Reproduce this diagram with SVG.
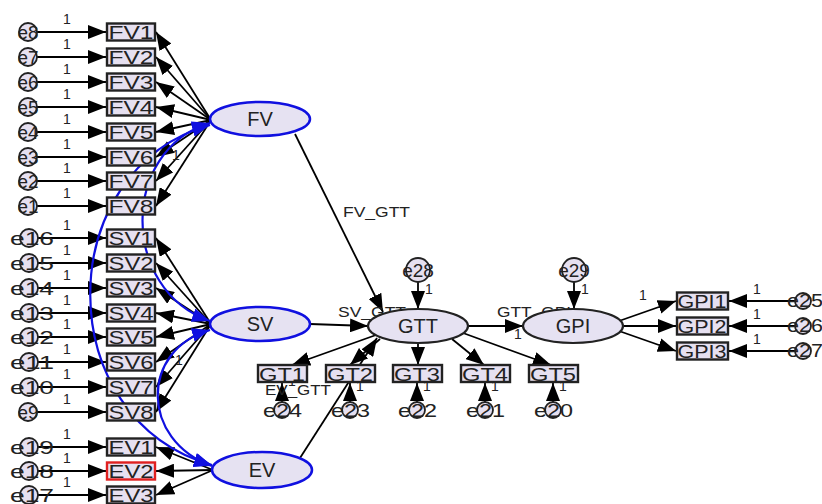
<svg xmlns="http://www.w3.org/2000/svg" width="822" height="504" viewBox="0 0 822 504">
<defs>
<marker id="ah" markerUnits="userSpaceOnUse" markerWidth="19" markerHeight="14" refX="18" refY="7" orient="auto"><path d="M0,0 L18,7 L0,14 z" fill="#000"/></marker>
<marker id="bh" markerUnits="userSpaceOnUse" markerWidth="19" markerHeight="14" refX="18" refY="7" orient="auto-start-reverse"><path d="M0,0 L18,7 L0,14 z" fill="#1010e0"/></marker>
</defs>
<style>
.box{fill:#e6e0f0;stroke:#222;stroke-width:2.4}
.lv{fill:#e6e2f2;stroke:#1010e0;stroke-width:2.5}
.lb{fill:#e6e2f2;stroke:#222;stroke-width:2.2}
.err{fill:#e6e0f0;stroke:#222;stroke-width:1.8}
.t{font-family:"Liberation Sans",Arial,sans-serif;font-size:19px;fill:#222;text-anchor:middle}
.tl{font-family:"Liberation Sans",Arial,sans-serif;font-size:20px;fill:#222;text-anchor:middle}
.s{font-family:"Liberation Sans",Arial,sans-serif;font-size:14px;fill:#222}
.c{fill:none;stroke:#000;stroke-width:1.8}
.cv{fill:none;stroke:#1010e0;stroke-width:2.2}
</style>
<rect width="822" height="504" fill="#fff"/>
<g id="connectors">
<g class="c" marker-end="url(#ah)">
<line x1="37" y1="32" x2="106" y2="32"/><line x1="37" y1="57" x2="106" y2="57"/><line x1="37" y1="82" x2="106" y2="82"/><line x1="37" y1="107" x2="106" y2="107"/><line x1="37" y1="132" x2="106" y2="132"/><line x1="37" y1="157" x2="106" y2="157"/><line x1="37" y1="181" x2="106" y2="181"/><line x1="37" y1="206" x2="106" y2="206"/>
<line x1="37" y1="238" x2="106" y2="238"/><line x1="37" y1="263" x2="106" y2="263"/><line x1="37" y1="288" x2="106" y2="288"/><line x1="37" y1="313" x2="106" y2="313"/><line x1="37" y1="337" x2="106" y2="337"/><line x1="37" y1="362" x2="106" y2="362"/><line x1="37" y1="387" x2="106" y2="387"/><line x1="37" y1="412" x2="106" y2="412"/>
<line x1="37" y1="447" x2="106" y2="447"/><line x1="37" y1="471" x2="106" y2="471"/><line x1="37" y1="495" x2="106" y2="495"/>
<line x1="211" y1="120" x2="156" y2="32"/><line x1="211" y1="120" x2="156" y2="57"/><line x1="211" y1="120" x2="156" y2="82"/><line x1="211" y1="120" x2="156" y2="107"/><line x1="211" y1="120" x2="156" y2="132"/><line x1="211" y1="120" x2="156" y2="157"/><line x1="211" y1="120" x2="156" y2="181"/><line x1="211" y1="120" x2="156" y2="206"/>
<line x1="211" y1="324" x2="156" y2="238"/><line x1="211" y1="324" x2="156" y2="263"/><line x1="211" y1="324" x2="156" y2="288"/><line x1="211" y1="324" x2="156" y2="313"/><line x1="211" y1="324" x2="156" y2="337"/><line x1="211" y1="324" x2="156" y2="362"/><line x1="211" y1="324" x2="156" y2="387"/><line x1="211" y1="324" x2="156" y2="412"/>
<line x1="213" y1="470" x2="156" y2="447"/><line x1="213" y1="470" x2="156" y2="471"/><line x1="213" y1="470" x2="156" y2="495"/>
<line x1="295" y1="134" x2="383" y2="312"/>
<line x1="310" y1="324" x2="368" y2="326"/>
<line x1="300" y1="458" x2="377" y2="338"/>
<line x1="468" y1="326" x2="523" y2="326"/>
<line x1="418" y1="282" x2="418" y2="309"/>
<line x1="574" y1="282" x2="574" y2="309"/>
<line x1="376" y1="335" x2="292" y2="365"/>
<line x1="380" y1="339" x2="350" y2="365"/>
<line x1="418" y1="343" x2="418" y2="365"/>
<line x1="452" y1="339" x2="484" y2="365"/>
<line x1="463" y1="333" x2="551" y2="365"/>
<line x1="282" y1="402" x2="282" y2="383"/>
<line x1="350" y1="402" x2="350" y2="383"/>
<line x1="417" y1="402" x2="417" y2="383"/>
<line x1="485" y1="402" x2="485" y2="383"/>
<line x1="553" y1="402" x2="553" y2="383"/>
<line x1="619" y1="321" x2="676" y2="301"/>
<line x1="623" y1="326" x2="676" y2="326"/>
<line x1="619" y1="331" x2="676" y2="351"/>
<line x1="795" y1="301" x2="729" y2="301"/>
<line x1="795" y1="326" x2="729" y2="326"/>
<line x1="795" y1="351" x2="729" y2="351"/>
</g>
<g class="cv" marker-start="url(#bh)" marker-end="url(#bh)">
<path d="M210 123 C120 150 120 290 210 321"/>
<path d="M210 125 C50 170 50 420 212 465"/>
<path d="M210 330 C140 350 140 440 212 466"/>
</g>
</g>
<g id="labels">
<g class="s">
<text x="63" y="24">1</text><text x="63" y="49">1</text><text x="63" y="74">1</text><text x="63" y="99">1</text><text x="63" y="124">1</text><text x="63" y="149">1</text><text x="63" y="173">1</text><text x="63" y="198">1</text>
<text x="63" y="230">1</text><text x="63" y="255">1</text><text x="63" y="280">1</text><text x="63" y="305">1</text><text x="63" y="329">1</text><text x="63" y="354">1</text><text x="63" y="379">1</text><text x="63" y="404">1</text>
<text x="63" y="439">1</text><text x="63" y="463">1</text><text x="63" y="487">1</text>
<text x="172" y="160">1</text><text x="175" y="365">1</text>
<text x="343" y="217" font-size="15" textLength="67" lengthAdjust="spacingAndGlyphs">FV_GTT</text>
<text x="338" y="317" font-size="15" textLength="68" lengthAdjust="spacingAndGlyphs">SV_GTT</text>
<text x="265" y="395" font-size="15" textLength="66" lengthAdjust="spacingAndGlyphs">EV_GTT</text>
<text x="497" y="317" font-size="15" textLength="74" lengthAdjust="spacingAndGlyphs">GTT_GPI</text>
<text x="514" y="339">1</text>
<text x="425" y="294">1</text><text x="581" y="294">1</text>
<text x="288" y="386">1</text><text x="356" y="391">1</text><text x="423" y="391">1</text><text x="491" y="391">1</text><text x="559" y="391">1</text>
<text x="639" y="300">1</text>
<text x="753" y="294">1</text><text x="753" y="319">1</text><text x="753" y="344">1</text>
</g>
</g>
<g id="errors">
<g class="err">
<circle cx="28" cy="32" r="9"/><circle cx="28" cy="57" r="9"/><circle cx="28" cy="82" r="9"/><circle cx="28" cy="107" r="9"/><circle cx="28" cy="132" r="9"/><circle cx="28" cy="157" r="9"/><circle cx="28" cy="181" r="9"/><circle cx="28" cy="206" r="9"/>
<circle cx="29" cy="238" r="9"/><circle cx="29" cy="263" r="9"/><circle cx="29" cy="288" r="9"/><circle cx="29" cy="313" r="9"/><circle cx="29" cy="337" r="9"/><circle cx="29" cy="362" r="9"/><circle cx="29" cy="387" r="9"/><circle cx="28" cy="412" r="9"/>
<circle cx="29" cy="447" r="9"/><circle cx="29" cy="471" r="9"/><circle cx="29" cy="495" r="9"/>
<circle cx="418" cy="270" r="12"/><circle cx="574" cy="270" r="12"/>
<circle cx="282" cy="410" r="8"/><circle cx="350" cy="410" r="8"/><circle cx="417" cy="410" r="8"/><circle cx="485" cy="410" r="8"/><circle cx="553" cy="410" r="8"/>
<circle cx="803" cy="301" r="8"/><circle cx="803" cy="326" r="8"/><circle cx="803" cy="351" r="8"/>
</g>
<g class="t">
<text x="28" y="39" textLength="21" lengthAdjust="spacingAndGlyphs">e8</text><text x="28" y="64" textLength="21" lengthAdjust="spacingAndGlyphs">e7</text><text x="28" y="89" textLength="21" lengthAdjust="spacingAndGlyphs">e6</text><text x="28" y="114" textLength="21" lengthAdjust="spacingAndGlyphs">e5</text><text x="28" y="139" textLength="21" lengthAdjust="spacingAndGlyphs">e4</text><text x="28" y="164" textLength="21" lengthAdjust="spacingAndGlyphs">e3</text><text x="28" y="188" textLength="21" lengthAdjust="spacingAndGlyphs">e2</text><text x="28" y="213" textLength="21" lengthAdjust="spacingAndGlyphs">e1</text>
<text x="10" y="245" text-anchor="start" textLength="44" lengthAdjust="spacingAndGlyphs">e16</text><text x="10" y="270" text-anchor="start" textLength="44" lengthAdjust="spacingAndGlyphs">e15</text><text x="10" y="295" text-anchor="start" textLength="44" lengthAdjust="spacingAndGlyphs">e14</text><text x="10" y="320" text-anchor="start" textLength="44" lengthAdjust="spacingAndGlyphs">e13</text><text x="10" y="344" text-anchor="start" textLength="44" lengthAdjust="spacingAndGlyphs">e12</text><text x="10" y="369" text-anchor="start" textLength="44" lengthAdjust="spacingAndGlyphs">e11</text><text x="10" y="394" text-anchor="start" textLength="44" lengthAdjust="spacingAndGlyphs">e10</text><text x="28" y="419" textLength="21" lengthAdjust="spacingAndGlyphs">e9</text>
<text x="10" y="454" text-anchor="start" textLength="44" lengthAdjust="spacingAndGlyphs">e19</text><text x="10" y="478" text-anchor="start" textLength="44" lengthAdjust="spacingAndGlyphs">e18</text><text x="10" y="502" text-anchor="start" textLength="44" lengthAdjust="spacingAndGlyphs">e17</text>
<text x="418" y="277">e28</text><text x="574" y="277">e29</text>
<text x="263" y="417" text-anchor="start" textLength="39" lengthAdjust="spacingAndGlyphs">e24</text><text x="331" y="417" text-anchor="start" textLength="39" lengthAdjust="spacingAndGlyphs">e23</text><text x="398" y="417" text-anchor="start" textLength="39" lengthAdjust="spacingAndGlyphs">e22</text><text x="466" y="417" text-anchor="start" textLength="39" lengthAdjust="spacingAndGlyphs">e21</text><text x="534" y="417" text-anchor="start" textLength="39" lengthAdjust="spacingAndGlyphs">e20</text>
<text x="787" y="307" text-anchor="start" textLength="36" lengthAdjust="spacingAndGlyphs">e25</text><text x="787" y="332" text-anchor="start" textLength="36" lengthAdjust="spacingAndGlyphs">e26</text><text x="787" y="357" text-anchor="start" textLength="36" lengthAdjust="spacingAndGlyphs">e27</text>
</g>
</g>
<g id="observed">
<g class="box">
<rect x="107" y="23.5" width="48" height="17"/><rect x="107" y="48.5" width="48" height="17"/><rect x="107" y="73.5" width="48" height="17"/><rect x="107" y="98.5" width="48" height="17"/><rect x="107" y="123.5" width="48" height="17"/><rect x="107" y="148.5" width="48" height="17"/><rect x="107" y="172.5" width="48" height="17"/><rect x="107" y="197.5" width="48" height="17"/>
<rect x="107" y="229.5" width="48" height="17"/><rect x="107" y="254.5" width="48" height="17"/><rect x="107" y="279.5" width="48" height="17"/><rect x="107" y="304.5" width="48" height="17"/><rect x="107" y="328.5" width="48" height="17"/><rect x="107" y="353.5" width="48" height="17"/><rect x="107" y="378.5" width="48" height="17"/><rect x="107" y="403.5" width="48" height="17"/>
<rect x="107" y="438.5" width="48" height="17"/><rect x="107" y="462.5" width="48" height="17" style="stroke:#e02020"/><rect x="107" y="486.5" width="48" height="17"/>
<rect x="258" y="365" width="49" height="17"/><rect x="326" y="365" width="49" height="17"/><rect x="393" y="365" width="49" height="17"/><rect x="461" y="365" width="49" height="17"/><rect x="529" y="365" width="49" height="17"/>
<rect x="677" y="292.5" width="51" height="17"/><rect x="677" y="317.5" width="51" height="17"/><rect x="677" y="342.5" width="51" height="17"/>
</g>
<g class="t" font-size="20">
<text x="131" y="39" textLength="45" lengthAdjust="spacingAndGlyphs">FV1</text><text x="131" y="64" textLength="45" lengthAdjust="spacingAndGlyphs">FV2</text><text x="131" y="89" textLength="45" lengthAdjust="spacingAndGlyphs">FV3</text><text x="131" y="114" textLength="45" lengthAdjust="spacingAndGlyphs">FV4</text><text x="131" y="139" textLength="45" lengthAdjust="spacingAndGlyphs">FV5</text><text x="131" y="164" textLength="45" lengthAdjust="spacingAndGlyphs">FV6</text><text x="131" y="188" textLength="45" lengthAdjust="spacingAndGlyphs">FV7</text><text x="131" y="213" textLength="45" lengthAdjust="spacingAndGlyphs">FV8</text>
<text x="131" y="245" textLength="45" lengthAdjust="spacingAndGlyphs">SV1</text><text x="131" y="270" textLength="45" lengthAdjust="spacingAndGlyphs">SV2</text><text x="131" y="295" textLength="45" lengthAdjust="spacingAndGlyphs">SV3</text><text x="131" y="320" textLength="45" lengthAdjust="spacingAndGlyphs">SV4</text><text x="131" y="344" textLength="45" lengthAdjust="spacingAndGlyphs">SV5</text><text x="131" y="369" textLength="45" lengthAdjust="spacingAndGlyphs">SV6</text><text x="131" y="394" textLength="45" lengthAdjust="spacingAndGlyphs">SV7</text><text x="131" y="419" textLength="45" lengthAdjust="spacingAndGlyphs">SV8</text>
<text x="131" y="454" textLength="45" lengthAdjust="spacingAndGlyphs">EV1</text><text x="131" y="478" textLength="45" lengthAdjust="spacingAndGlyphs">EV2</text><text x="131" y="502" textLength="45" lengthAdjust="spacingAndGlyphs">EV3</text>
<text x="282" y="381" textLength="46" lengthAdjust="spacingAndGlyphs">GT1</text><text x="350" y="381" textLength="46" lengthAdjust="spacingAndGlyphs">GT2</text><text x="417" y="381" textLength="46" lengthAdjust="spacingAndGlyphs">GT3</text><text x="485" y="381" textLength="46" lengthAdjust="spacingAndGlyphs">GT4</text><text x="553" y="381" textLength="46" lengthAdjust="spacingAndGlyphs">GT5</text>
<text x="702" y="308" textLength="49" lengthAdjust="spacingAndGlyphs">GPI1</text><text x="702" y="333" textLength="49" lengthAdjust="spacingAndGlyphs">GPI2</text><text x="702" y="358" textLength="49" lengthAdjust="spacingAndGlyphs">GPI3</text>
</g>
</g>
<g id="latent-FV"><ellipse class="lv" cx="260" cy="119" rx="50" ry="17"/><text class="tl" x="260" y="126">FV</text></g>
<g id="latent-SV"><ellipse class="lv" cx="260" cy="324" rx="50" ry="17"/><text class="tl" x="260" y="331">SV</text></g>
<g id="latent-EV"><ellipse class="lv" cx="262" cy="470" rx="50" ry="18"/><text class="tl" x="262" y="477">EV</text></g>
<g id="latent-GTT"><ellipse class="lb" cx="418" cy="326" rx="50" ry="17"/><text class="tl" x="418" y="333">GTT</text></g>
<g id="latent-GPI"><ellipse class="lb" cx="573" cy="326" rx="50" ry="17"/><text class="tl" x="573" y="333">GPI</text></g>
</svg>
